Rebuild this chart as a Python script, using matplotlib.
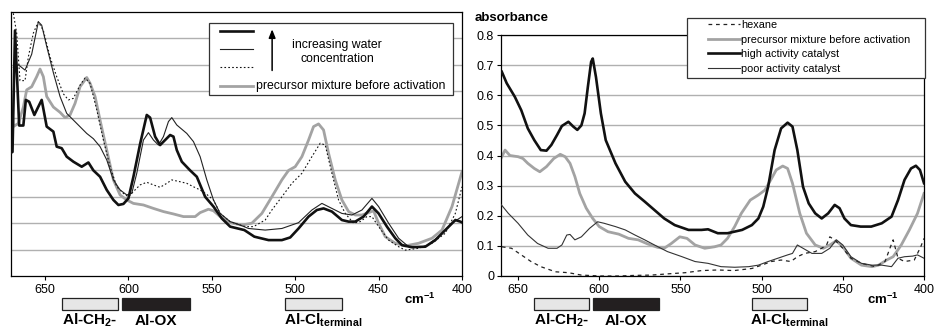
import matplotlib
matplotlib.use('Agg')
import matplotlib.pyplot as plt
from matplotlib.patches import Rectangle
import matplotlib.transforms as mtransforms

plt.rcParams['font.family'] = ['Liberation Sans', 'DejaVu Sans']
plt.rcParams['mathtext.fontset'] = 'custom'
plt.rcParams['mathtext.rm'] = 'Liberation Sans'
plt.rcParams['mathtext.bf'] = 'Liberation Sans:bold'
plt.rcParams['mathtext.it'] = 'Liberation Sans:italic'

# ---------------- data: left panel (water series) ----------------
hw_x = [671, 669.5, 668, 665.5, 663, 661.5, 659.5, 656.4, 654.5, 652, 649, 645, 643, 640, 637, 633, 628, 624, 621, 617,
        613, 609, 606, 603, 600, 597, 593, 589, 587, 584, 581, 578, 575, 573, 571, 568, 563, 559, 554, 549,
        544, 539, 530.5, 524.5, 516, 508, 503, 498, 492, 487, 483, 478, 472, 468, 464, 459, 454, 450, 445, 440,
        436, 430, 422, 416, 410, 404, 401, 399]
hw_y = [0.465, 0.47, 0.93, 0.57, 0.57, 0.667, 0.66, 0.61, 0.635, 0.667, 0.566, 0.547, 0.49, 0.484, 0.452, 0.433, 0.414, 0.43, 0.40, 0.376,
        0.326, 0.288, 0.269, 0.273, 0.294, 0.376, 0.50, 0.61, 0.60, 0.528, 0.496, 0.515, 0.534, 0.528, 0.477, 0.433, 0.40, 0.376, 0.30, 0.263,
        0.218, 0.187, 0.174, 0.149, 0.136, 0.136, 0.146, 0.18, 0.225, 0.25, 0.256, 0.244, 0.212, 0.206, 0.206, 0.225, 0.263, 0.237, 0.187, 0.143,
        0.117, 0.109, 0.111, 0.136, 0.174, 0.212, 0.206, 0.2]

mw_x = [669, 666, 662, 658, 654, 652, 649, 645, 641, 637, 631, 625, 621, 617, 613, 609, 605, 601, 598, 595,
        591, 588, 585, 582, 579, 576, 574, 571, 565, 561, 557, 553, 549, 545, 539, 533, 528, 518, 508, 498,
        490, 484, 478, 472, 466, 460, 454, 450, 444, 438, 432, 422, 414, 406, 400]
mw_y = [0.79, 0.80, 0.78, 0.84, 0.963, 0.95, 0.87, 0.77, 0.68, 0.616, 0.578, 0.54, 0.52, 0.49, 0.44, 0.364, 0.326, 0.307, 0.313, 0.389,
        0.515, 0.543, 0.515, 0.496, 0.528, 0.585, 0.60, 0.572, 0.54, 0.509, 0.452, 0.364, 0.288, 0.237, 0.206, 0.193, 0.18, 0.174, 0.18, 0.202,
        0.25, 0.275, 0.256, 0.237, 0.231, 0.25, 0.294, 0.263, 0.20, 0.143, 0.111, 0.111, 0.149, 0.2, 0.225]

lw_x = [669, 667, 665, 662, 660, 657, 654, 651, 647, 643, 639, 636, 633, 629, 626, 623, 619, 615, 611, 607,
        603, 600, 597, 593, 589, 585, 581, 577, 574, 569, 565, 561, 557, 553, 549, 545, 539, 533, 530, 525,
        518, 514, 508, 502, 496, 490, 485, 482, 478, 474, 470, 465, 461, 457, 454, 450, 444, 438, 434, 426,
        418, 410, 404, 400]
lw_y = [0.995, 0.92, 0.74, 0.74, 0.83, 0.92, 0.963, 0.93, 0.83, 0.755, 0.69, 0.667, 0.673, 0.723, 0.75, 0.73, 0.63, 0.515, 0.414, 0.338,
        0.313, 0.30, 0.32, 0.345, 0.355, 0.345, 0.336, 0.351, 0.364, 0.357, 0.351, 0.338, 0.326, 0.309, 0.288, 0.237, 0.206, 0.193, 0.187, 0.187,
        0.212, 0.25, 0.30, 0.351, 0.389, 0.452, 0.503, 0.496, 0.389, 0.288, 0.237, 0.20, 0.206, 0.225, 0.225, 0.187, 0.136, 0.111, 0.098, 0.105,
        0.124, 0.162, 0.237, 0.338]

pl_x = [671, 670, 669, 666, 663, 661, 658, 655, 653, 651, 649, 645, 641, 638, 635, 632, 629, 625, 623, 620,
        617, 613, 609, 605, 601, 597, 591, 585, 579, 573, 567, 560, 557, 552, 549, 545, 539, 532, 526, 520,
        514, 508, 504, 500, 496, 492, 489, 486, 483, 480, 476, 472, 468, 464, 460, 456, 453, 450, 446, 440,
        434, 426, 418, 412, 406, 400]
pl_y = [0.76, 0.65, 0.566, 0.578, 0.64, 0.705, 0.717, 0.755, 0.784, 0.755, 0.68, 0.64, 0.62, 0.60, 0.61, 0.654, 0.717, 0.752, 0.73, 0.68,
        0.59, 0.477, 0.364, 0.307, 0.288, 0.275, 0.269, 0.256, 0.244, 0.235, 0.225, 0.225, 0.24, 0.253, 0.247, 0.225, 0.202, 0.193, 0.2, 0.237,
        0.30, 0.364, 0.40, 0.414, 0.452, 0.515, 0.566, 0.576, 0.553, 0.465, 0.364, 0.288, 0.244, 0.231, 0.231, 0.24, 0.247, 0.2, 0.149, 0.124,
        0.114, 0.124, 0.143, 0.174, 0.263, 0.395]

# ---------------- data: right panel (catalysts) ----------------
hi_x = [660, 657, 652, 648, 644, 640, 636, 632.5, 629.5, 626, 623, 619, 616, 613.5, 611, 609, 607, 605, 604, 602,
        599, 596, 590, 584, 578, 572, 566, 560, 553.5, 545, 537, 533, 527, 521, 512, 506, 502, 499, 496, 492,
        488, 484, 481, 478, 474.5, 471, 467, 463, 459, 455, 452, 449, 445, 439, 432.5, 426, 420, 416, 412, 408,
        405, 402.5, 400]
hi_y = [0.678, 0.64, 0.595, 0.55, 0.49, 0.451, 0.418, 0.416, 0.435, 0.468, 0.498, 0.512, 0.496, 0.485, 0.50, 0.54, 0.628, 0.711, 0.722, 0.66,
        0.54, 0.451, 0.374, 0.313, 0.274, 0.247, 0.219, 0.191, 0.169, 0.153, 0.153, 0.155, 0.142, 0.142, 0.153, 0.169, 0.191, 0.23, 0.296, 0.418,
        0.49, 0.509, 0.496, 0.418, 0.296, 0.241, 0.208, 0.191, 0.208, 0.236, 0.225, 0.191, 0.169, 0.164, 0.164, 0.175, 0.197, 0.252, 0.319, 0.357,
        0.366, 0.352, 0.308]

pr_x = [661, 658, 655, 650, 647, 644, 640, 636.6, 632.5, 628, 624, 621, 618, 615, 612, 608, 604, 600, 594.6, 588,
        582, 576, 570, 564, 560, 555.6, 550.4, 546, 541, 535, 529, 525, 521, 516.6, 512.5, 507, 502, 498, 495, 491,
        487, 484, 481, 476.5, 472.4, 467, 462, 458, 454, 450, 445, 438.5, 432, 428, 423, 419, 414, 409, 404, 400]
pr_y = [0.385, 0.418, 0.40, 0.396, 0.39, 0.374, 0.357, 0.346, 0.363, 0.39, 0.404, 0.396, 0.374, 0.33, 0.274, 0.225, 0.191, 0.164, 0.147, 0.139,
        0.125, 0.12, 0.106, 0.095, 0.092, 0.108, 0.13, 0.125, 0.103, 0.092, 0.097, 0.103, 0.125, 0.164, 0.208, 0.252, 0.269, 0.285, 0.313, 0.352,
        0.365, 0.357, 0.308, 0.208, 0.142, 0.103, 0.092, 0.103, 0.117, 0.097, 0.059, 0.036, 0.031, 0.036, 0.053, 0.064, 0.103, 0.153, 0.208, 0.274]

po_x = [661, 656, 650, 644, 638, 631.5, 626, 623, 620, 618, 615, 611, 606, 601, 597, 590, 584, 578, 572, 566,
        558, 549, 541, 533, 525, 516.6, 508, 502, 496, 490, 484, 481, 478, 474.5, 469, 463, 458, 454, 450, 445,
        438.5, 432, 426, 420, 416, 412, 407, 404, 400]
po_y = [0.241, 0.208, 0.175, 0.136, 0.108, 0.092, 0.092, 0.103, 0.136, 0.138, 0.12, 0.13, 0.158, 0.18, 0.175, 0.164, 0.153, 0.136, 0.12, 0.103,
        0.081, 0.064, 0.048, 0.042, 0.031, 0.029, 0.031, 0.036, 0.048, 0.059, 0.07, 0.075, 0.103, 0.092, 0.075, 0.075, 0.092, 0.12, 0.103, 0.064,
        0.042, 0.036, 0.036, 0.031, 0.059, 0.064, 0.066, 0.07, 0.059]

hx_x = [660, 654, 648, 642, 636, 627, 619, 611, 599, 588, 578, 568, 558, 547, 537, 527, 517, 506, 500, 494,
        488, 482, 478, 473.5, 467, 463, 460, 458, 455, 450, 445, 438.5, 430, 424, 421, 419, 416, 412, 406, 402, 400]
hx_y = [0.097, 0.092, 0.07, 0.048, 0.031, 0.014, 0.011, 0.003, 0.0, 0.0, 0.002, 0.003, 0.007, 0.011, 0.018, 0.02, 0.018, 0.025, 0.036, 0.048,
        0.053, 0.048, 0.064, 0.075, 0.081, 0.092, 0.103, 0.13, 0.12, 0.092, 0.059, 0.042, 0.031, 0.048, 0.092, 0.12, 0.059, 0.048, 0.053, 0.097, 0.125]

# band assignments (cm-1 ranges)
band_labels = [r'Al-CH$_{\mathbf{2}}$-', 'Al-OX', r'Al-Cl$_{\mathbf{terminal}}$']
band_start = [640, 604, 506]
band_end = [606, 563, 472]
band_fill = ['#e6e6e6', '#231f20', '#e6e6e6']

x_ticks = [650, 600, 550, 500, 450, 400]
right_yticks = [0, 0.1, 0.2, 0.3, 0.4, 0.5, 0.6, 0.7, 0.8]
right_yticklabels = ['0', '0.1', '0.2', '0.3', '0.4', '0.5', '0.6', '0.7', '0.8']
left_grid = [0.1, 0.2, 0.3, 0.4, 0.5, 0.6, 0.7, 0.8, 0.9]

GRAY = '#a3a3a3'
BLACK = '#111111'

fig = plt.figure(figsize=(9.38, 3.34), dpi=100)
axL = fig.add_axes([11 / 938, 58 / 334, 451 / 938, 264 / 334])
axR = fig.add_axes([501 / 938, 58 / 334, 423 / 938, 241 / 334])


def style(ax):
    ax.set_xticks(x_ticks)
    ax.set_xticklabels([str(t) for t in x_ticks])
    ax.grid(axis='y', color='#b0b0b0', lw=1.0)
    ax.set_axisbelow(True)
    for s in ax.spines.values():
        s.set_color('black')
        s.set_linewidth(0.9)
    ax.tick_params(direction='out', length=3, width=0.8, labelsize=9, pad=2.5, colors='black')


# left panel
axL.plot(pl_x, pl_y, color=GRAY, lw=2.0, zorder=2)
axL.plot(lw_x, lw_y, color=BLACK, lw=0.8, ls=(0, (1.5, 2)), zorder=3)
axL.plot(mw_x, mw_y, color='#222222', lw=0.8, zorder=3)
axL.plot(hw_x, hw_y, color=BLACK, lw=1.9, zorder=4)
axL.set_xlim(670.4, 400)
axL.set_ylim(0, 1.0)
axL.set_yticks(left_grid)
style(axL)
axL.tick_params(axis='y', length=0, labelleft=False)

# left custom legend
axL.add_patch(Rectangle((0.439, 0.686), 0.541, 0.272, transform=axL.transAxes,
                        facecolor='white', edgecolor='#333333', lw=0.9, zorder=6))
leg_rows = [0.928, 0.860, 0.792, 0.720]
leg_styles = [dict(color=BLACK, lw=1.9), dict(color='#222222', lw=0.8),
              dict(color=BLACK, lw=0.8, ls=(0, (1.5, 2))), dict(color=GRAY, lw=2.0)]
for yy, st in zip(leg_rows, leg_styles):
    axL.plot([0.463, 0.537], [yy, yy], transform=axL.transAxes, clip_on=False, zorder=7, **st)
axL.text(0.543, leg_rows[3], 'precursor mixture before activation', transform=axL.transAxes,
         fontsize=8.8, va='center', ha='left', zorder=7)
axL.annotate('', xy=(0.579, 0.945), xytext=(0.579, 0.768), xycoords='axes fraction',
             arrowprops=dict(arrowstyle='-|>,head_length=0.5,head_width=0.2', color='black', lw=1.1),
             zorder=7)
axL.text(0.723, 0.848, 'increasing water\nconcentration', transform=axL.transAxes,
         fontsize=8.8, va='center', ha='center', multialignment='center', linespacing=1.15, zorder=7)

# right panel
l_hex, = axR.plot(hx_x, hx_y, color='#222222', lw=0.9, ls=(0, (3, 3)), zorder=3, label='hexane')
l_pre, = axR.plot(pr_x, pr_y, color=GRAY, lw=2.0, zorder=2, label='precursor mixture before activation')
l_hi, = axR.plot(hi_x, hi_y, color=BLACK, lw=1.9, zorder=4, label='high activity catalyst')
l_po, = axR.plot(po_x, po_y, color='#333333', lw=0.8, zorder=3, label='poor activity catalyst')
axR.set_xlim(660.5, 400)
axR.set_ylim(0, 0.8)
axR.set_yticks(right_yticks)
axR.set_yticklabels(right_yticklabels)
style(axR)
axR.tick_params(axis='y', labelsize=9, pad=2)

axR.add_patch(Rectangle((0.440, 0.822), 0.563, 0.249, transform=axR.transAxes,
                        facecolor='white', edgecolor='#333333', lw=0.9, zorder=6, clip_on=False))
leg = axR.legend(handles=[l_hex, l_pre, l_hi, l_po], loc='upper left', bbox_to_anchor=(0.489, 1.062),
                 frameon=False, fontsize=7.8, handlelength=2.95, handletextpad=0.1,
                 labelspacing=0.42, borderpad=0, borderaxespad=0)
leg.set_zorder(7)

fig.text(475 / 938, (334 - 18) / 334, 'absorbance', fontsize=9.5, fontweight='bold', ha='left', va='center')

# band bars and labels under both panels
for ax in (axL, axR):
    tr = mtransforms.blended_transform_factory(ax.transData, fig.transFigure)
    for lab, s, e, fc in zip(band_labels, band_start, band_end, band_fill):
        ax.add_patch(Rectangle((s, 24 / 334), e - s, 12 / 334, transform=tr, facecolor=fc,
                               edgecolor='#222222', lw=0.9, clip_on=False))
    ax.text((band_start[0] + band_end[0]) / 2, 0.027, band_labels[0], transform=tr, fontsize=11,
            fontweight='bold', ha='center', va='baseline')
    ax.text((band_start[1] + band_end[1]) / 2, 0.027, band_labels[1], transform=tr, fontsize=11,
            fontweight='bold', ha='center', va='baseline')
    ax.text(band_start[2] + 1, 0.027, band_labels[2], transform=tr, fontsize=11,
            fontweight='bold', ha='left', va='baseline')
    ax.text(435, 30 / 334, r'cm$^{\mathbf{-1}}$', transform=tr, fontsize=9.5, fontweight='bold',
            ha='left', va='baseline')

fig.savefig('out.png', dpi=100)
